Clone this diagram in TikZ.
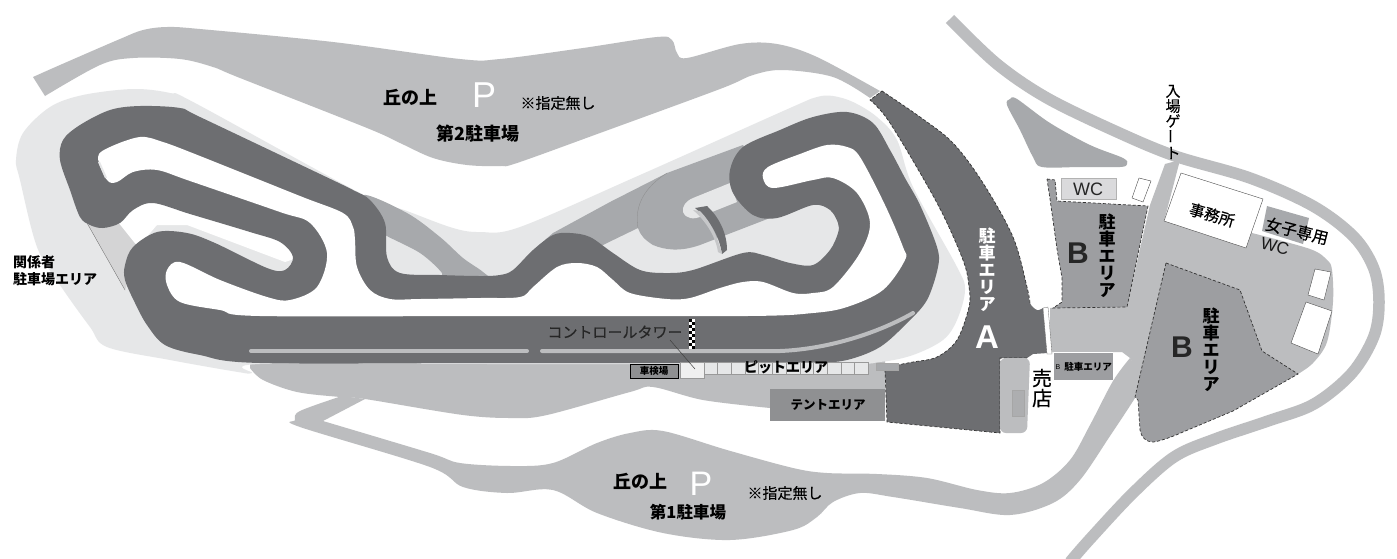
\documentclass[tikz,border=0pt]{standalone}
\usepackage{fontspec}
\setmainfont{Liberation Sans}
\newfontfamily\cjk{Noto Sans CJK JP}
\newfontfamily\cjkm[FakeBold=0.35]{Noto Sans CJK JP}
\definecolor{trk}{HTML}{6D6E71}
\definecolor{midg}{HTML}{BCBDBF}
\definecolor{strp}{HTML}{A7A9AC}
\definecolor{lite}{HTML}{E6E7E8}
\definecolor{bzone}{HTML}{9D9EA1}
\definecolor{tent}{HTML}{8F9092}
\newcommand{\fsz}[1]{\fontsize{#1}{#1}\selectfont}
\tikzset{
  lab/.style={inner sep=0,outer sep=0,text=black,font=\cjk\bfseries\fsz{#1}},
  mlab/.style={inner sep=0,outer sep=0,text=black,align=center,font=\cjkm\fsz{#1}},
  vlab/.style={inner sep=0,outer sep=0,align=center,text=black,font=\cjk\bfseries\fsz{#1}},
  lat/.style={inner sep=0,outer sep=0,font=\fsz{#1}},
  zone/.style={fill=bzone,draw=black!80,densely dashed,line width=.7pt},
  whitebox/.style={fill=white,draw=black!70,line width=.4pt},
  smo/.style={smooth,tension=.55},
  smc/.style={smooth cycle,tension=.55}
}
\begin{document}
\begin{tikzpicture}[x=1pt,y=-1pt]
\useasboundingbox (0,0) rectangle (1397,558);
\fill[white] (0,0) rectangle (1397,558);
% upper hill
\fill[midg] plot[smo] coordinates {(33,77)(60,65)(120,39)(143,30)(167,27)(200,29)(333,42)(460,59)(500,59)(583,48)(657,37)(672,40)(677,53)(687,58)(740,44)(777,44)(817,57)(880,91)}
 -- plot[smo] coordinates {(870,98)(833,77)(783,70)(753,75)(720,89)(600,133)(517,163)(500,166)(467,165)(433,158)(400,143)(367,128)(240,78)(213,67)(180,59)(133,58)(100,65)(45,96)} -- cycle;
% pit apron
\fill[midg] (250,360) -- (885,360) -- (885,421) -- (770,408) -- plot[smo] coordinates {(770,408)(703,400)(653,387)(630,392)(547,415)(513,418)(463,415)(365,399)(340,397)(297,392)(263,380)(250,368)} -- cycle;
% lower hill and road
\fill[midg] plot[smo] coordinates {(342,396)(300,411)(295,420)(300,427)(430,467)(463,487)(507,493)(553,490)(597,513)(663,533)(730,540)(793,530)(817,517)(833,502)(860,493)(893,497)(960,508)(1010,515)(1053,503)(1080,480)(1110,436)(1135,398)(1145,380)}
 -- plot[smo] coordinates {(1130,358)(1113,381)(1090,425)(1070,460)(1043,483)(1010,493)(977,490)(927,478)(877,474)(827,473)(793,468)(727,450)(663,431)(630,433)(597,443)(553,463)(513,466)(460,463)(430,453)(323,421)} -- (365,399) -- cycle;
% outer road
\draw[midg,line width=11.5pt] plot[smo] coordinates {(950,19)(997,64)(1047,98)(1115,131)(1175,156)(1250,178)(1313,206)(1354,237)(1374,269)(1379,302)(1374,336)(1352,373)(1314,404)(1268,421)(1215,439)(1174,457)(1133,493)(1090,539)(1070,562)};
% light ground
\fill[lite] plot[smc] coordinates {(252,373)(238,372)(170,360)(107,347)(90,327)(60,285)(37,247)(20,180)(16,160)(23,133)(50,107)(83,95)(133,89)(170,93)(195,103)(360,193)(407,211)(453,228)(480,232)(520,227)(640,175)(790,108)(817,97)(833,96)(853,102)(877,117)(897,140)(913,187)(957,267)(965,290)(957,320)(943,340)(913,355)(880,362)(830,364)(500,364)(260,364)};
% stripes between the track
\fill[strp] plot[smc] coordinates {(363,195)(407,213)(440,237)(463,258)(483,272)(490,282)(442,282)(442,273)(420,253)(385,235)(372,225)};
\fill[strp] (545,240) -- (553,233) -- (610,202) -- (667,173) -- (743,145) -- (775,200) -- (770,218) -- (700,245)
  .. controls (680,252) and (665,250) .. (653,245) .. controls (645,240) and (640,235) .. (638,228) -- (607,243) -- (570,262) -- cycle;
\draw[black!45,line width=.3pt] (638,228) .. controls (634,205) and (645,187) .. (667,173);
\fill[lite] (730,183) -- (693,198) .. controls (686,201) and (682,206) .. (683,212) .. controls (686,219) and (694,220) .. (702,216) -- (737,202) -- cycle;
% bridge
\fill[trk] (695,208) -- (707,206) .. controls (718,216) and (727,232) .. (727,250) -- (722,254) .. controls (719,235) and (710,220) .. (695,208) -- cycle;
\fill[midg!85!white] (693,210) -- (700,211) .. controls (711,222) and (718,238) .. (722,254) -- (718,252) .. controls (716,238) and (707,222) .. (693,210) -- cycle;
% left service triangle and pocket
\fill[lite!92!black] (87,223) -- (123,222) -- (138,247) -- (125,290) -- cycle;
\draw[black!60,line width=.3pt] (87,223) -- (125,290);
\draw[black!60,line width=.3pt] (123,222) -- (138,247);
\fill[white] (138,247) -- (157,225) -- (187,225) -- (285,262) -- (300,257) -- (290,235) -- (153,195) -- (118,222) -- cycle;
% track
\fill[trk] plot[smc] coordinates {(813,363)(760,363)(500,363)(260,363)(200,355)(165,345)(147,325)(135,303)(125,280)(125,265)(133,247)(157,232)(187,233)(215,243)(267,268)(285,270)(293,257)(280,242)(250,232)(190,214)(153,203)(133,210)(120,223)(103,228)(90,225)(80,217)(70,190)(60,160)(63,140)(80,125)(110,110)(140,106)(180,108)(200,117)(320,174)(353,190)(370,200)(385,223)(387,257)(400,273)(440,275)(480,276)(500,275)(513,270)(533,250)(553,235)(570,233)(590,237)(613,253)(640,270)(667,273)(693,270)(743,253)(763,255)(790,263)(813,265)(830,250)(838,233)(838,223)(830,210)(813,205)(777,218)(753,215)(733,193)(730,170)(743,147)(780,130)(813,117)(847,112)(873,123)(890,150)(905,178)(920,205)(937,247)(938,267)(927,300)(907,323)(880,347)(847,360)};
\fill[white] plot[smc] coordinates {(747,316)(813,313)(847,307)(883,290)(905,260)(903,247)(885,205)(860,157)(847,147)(827,145)(800,154)(768,167)(763,178)(773,188)(813,180)(833,178)(857,193)(870,223)(860,253)(833,287)(813,293)(793,293)(763,282)(743,282)(720,288)(690,298)(667,299)(630,293)(613,280)(597,267)(577,263)(557,267)(533,287)(520,297)(480,298)(420,299)(390,299)(370,290)(357,267)(355,240)(353,227)(343,213)(300,196)(200,156)(163,142)(140,137)(110,147)(98,157)(107,180)(117,182)(133,172)(157,170)(190,181)(280,212)(310,223)(327,253)(317,287)(290,300)(267,297)(220,280)(180,262)(167,270)(167,285)(180,302)(220,310)(260,316)(500,316)};
\draw[lite,line width=2pt] (99,162) -- (106,178);
% lines on the straight
\draw[midg,line width=4pt,line cap=round] (251,351) -- (527,351);
\draw[midg,line width=4pt,line cap=round] (542,351) -- (780,351) .. controls (830,349) and (880,332) .. (913,313);
% chequered line
\foreach \r in {0,...,9}{
  \fill[black] ({689+3*mod(\r,2)},{319+3*\r}) rectangle ++(3,3);
  \fill[white] ({692-3*mod(\r,2)},{319+3*\r}) rectangle ++(3,3);
}
% parking A
\fill[trk] plot[smo] coordinates {(882,91)(920,117)(953,143)(983,183)(1013,237)(1027,287)(1030,303)(1037,310)(1043,308)} -- (1048,353) -- (1033,354) -- (1027,358) -- (1000,358) -- (1000,433) -- (887,422) -- (885,370) -- plot[smo] coordinates {(885,370)(898,365)(913,362)(937,357)(957,340)(969,307)(969,287)(963,260)(937,203)(890,123)(870,100)} -- cycle;
\draw[black!80,densely dashed,line width=.7pt] plot[smo] coordinates {(882,91)(920,117)(953,143)(983,183)(1013,237)(1027,287)(1030,303)};
\draw[black!80,densely dashed,line width=.7pt] (1027,358) -- (1000,358) -- (1000,433) -- (887,422) -- (885,370) -- plot[smo] coordinates {(885,370)(898,365)(913,362)(937,357)(957,340)(969,307)(969,287)(963,260)(937,203)(890,123)(870,100)} -- (882,91);
% kiosk block
\fill[midg,rounded corners=6pt] (1000,358) -- (1030,358) -- (1027,433) -- (1000,433) -- cycle;
\fill[midg!92!black] (1012,390) rectangle (1024,416);
\draw[black!35,line width=.3pt] (1012,390) rectangle (1024,416);
% right hand ground
\fill[midg] (1180,160) -- (1165,164) -- (1150,205) -- (1127,306) -- (1050,308) -- (1050,352) -- (1122,352) -- (1130,358) -- (1145,385) -- (1298,374) -- plot[smo] coordinates {(1298,374)(1313,363)(1327,342)(1333,302)(1332,270)(1327,260)(1310,249)(1252,233)} -- (1164,221) -- (1168,206) -- cycle;
\fill[strp] plot[smc] coordinates {(1007,105)(1010,99)(1017,99)(1050,123)(1090,145)(1123,158)(1127,164)(1120,167)(1080,167)(1042,167)(1033,157)(1020,130)};
% B upper
\draw[zone] (1047,179) -- (1055,180) -- (1057,201) -- (1148,206) -- (1127,307) -- (1053,308) -- (1062,302) -- (1062,278) -- (1057,249) -- (1050,199) -- cycle;
\fill[lite!70!midg] (1061,178) rectangle (1116,199);
\draw[black!30,line width=.3pt] (1061,178) rectangle (1116,199);
\draw[whitebox] (1139,178) -- (1151,181) -- (1143,202) -- (1132,198) -- cycle;
% B big
\draw[zone] (1166,263) -- (1240,290) -- (1262,351) -- (1298,374) -- (1233,411) -- (1183,432) .. controls (1165,440) and (1155,442) .. (1153,442) .. controls (1146,442) and (1141,437) .. (1140,430) -- (1138,400) -- (1135,397) -- cycle;
% small B box
\fill[bzone] (1054,352) rectangle (1113,380);
\draw[white,line width=.8pt] (1054,352) -- (1113,352);
% buildings
\draw[whitebox] (1181,173) -- (1263,199) -- (1246,248) -- (1164,221) -- cycle;
\fill[strp] (1267,206) -- (1309,218) -- (1303,244) -- (1262,231) -- cycle;
\draw[whitebox] (1315,269) -- (1331,272) -- (1324,300) -- (1308,295) -- cycle;
\draw[whitebox] (1306,302) -- (1332,311) -- (1318,354) -- (1291,343) -- cycle;
\fill[white] (1043,308) -- (1048,307) -- (1052,354) -- (1047,354) -- cycle;
\draw[black!60,line width=.3pt] (1043,308) -- (1048,307) -- (1052,354) -- (1047,354) -- cycle;
% pit buildings
\fill[tent] (770,389) rectangle (885,421);
\fill[strp] (876,363) rectangle (898,370);
\draw[black!35,line width=.3pt] (876,363) rectangle (898,370);
\fill[tent] (630,364) rectangle (678,378);
\draw[black,line width=.6pt] (630,364) rectangle (678,378);
\foreach \i in {0,...,11}{
  \fill[lite] ({704+13.67*\i},362) rectangle ++(13.67,12);
  \draw[black!40,line width=.4pt] ({704+13.67*\i},362) rectangle ++(13.67,12);
}
\node[fill=white!94!black,draw=black!40,line width=.4pt,minimum width=24pt,minimum height=16pt,inner sep=0] (tower) at (692,370) {};
% labels
\node[lab=18] (hilltwo) at (410,97) {丘の上};
\node[lat=36,text=white] (ptwo) at (484,95) {P};
\node[mlab=15] (nonetwo) at (558,103) {※指定無し};
\node[lab=18] (parktwo) at (478,134) {第2駐車場};
\node[lab=14,align=left,anchor=west] (staff) at (13,271) {関係者\\[3pt]駐車場エリア};
\node[mlab=15,text=black!85] (ctl) at (615,332) {コントロールタワー};
\coordinate (ctlfoot) at (670,340);
\coordinate (towertip) at (695,369);
\draw[black!75,line width=.5pt] (ctlfoot) -- (towertip);
\node[lab=9.5] (shaken) at (654,371) {車検場};
\node[lab=14] (pit) at (786,367) {ピットエリア};
\node[lab=12.5] (tentlab) at (828,405) {テントエリア};
\node[lab=18] (hillone) at (640,481) {丘の上};
\node[lat=34,text=white] (pone) at (701,484) {P};
\node[mlab=15] (noneone) at (785,493) {※指定無し};
\node[lab=16.5] (parkone) at (688,512) {第1駐車場};
\node[vlab=17,text=white] (areaA) at (987,270) {駐\\車\\エ\\リ\\ア};
\node[lat=33,font=\bfseries\fsz{33},text=white] (letterA) at (987,337) {A};
\node[lat=30,font=\bfseries\fsz{30},text=black!85] (letterB) at (1078,253) {B};
\node[vlab=17] (areaB) at (1107,256) {駐\\車\\エ\\リ\\ア};
\node[lat=30,font=\bfseries\fsz{30},text=black!85] (letterBB) at (1182,347) {B};
\node[vlab=17] (areaBB) at (1211,350) {駐\\車\\エ\\リ\\ア};
\node[lat=18,text=black!85] (wcone) at (1088,189) {WC};
\node[mlab=15.5,rotate=-16] (office) at (1212,215) {事務所};
\node[mlab=16,rotate=-14] (women) at (1297,231) {女子専用};
\node[lat=17,text=black!90,rotate=-14] (wctwo) at (1275,246) {WC};
\node[mlab=15] (gate) at (1173,122) {入\\場\\ゲ\\\rotatebox{90}{ー}\\ト};
\node[mlab=20] (shop) at (1042,388) {売\\店};
\node[lat=7,anchor=center] (smallb) at (1058,367) {B};
\node[lab=9.5] (smallarea) at (1088,367) {駐車エリア};
\end{tikzpicture}
\end{document}
